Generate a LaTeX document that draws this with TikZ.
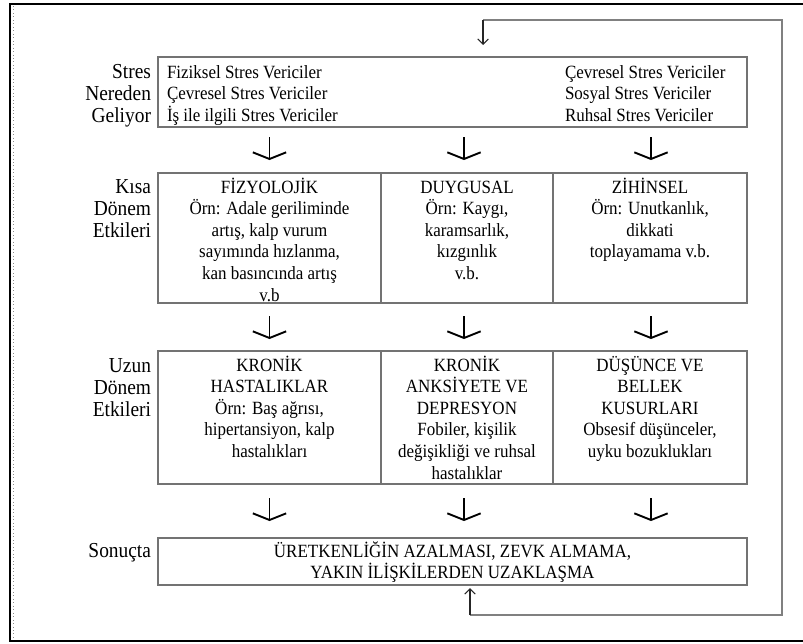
\documentclass[tikz,border=0pt]{standalone}
\usepackage{fontspec}
\setmainfont{Liberation Serif}[FakeStretch=0.91]
\usetikzlibrary{arrows.meta,fit}
\begin{document}
\begin{tikzpicture}[x=0.75pt,y=-0.75pt,
  every node/.style={font=\fontsize{14}{16.2}\selectfont, inner sep=0pt, outer sep=0pt},
  box/.style={draw=black!55, line width=0.9pt, inner sep=0pt},
  txt/.style={align=center, anchor=base},
  lbl/.style={align=right, anchor=base east, font=\fontsize{16}{16.5}\selectfont},
  down/.style={line width=1.4pt, -{Straight Barb[length=5pt,width=25pt,line width=1.4pt]}},
  loopline/.style={draw=black!50, line width=1pt},
  looptip/.style={line width=0.8pt, draw=black!85, -{Straight Barb[length=4pt,width=8pt]}}
]
\useasboundingbox (0,0) rectangle (803,643);

% frame
\draw[line width=1.6pt] (803,4) -- (10,4) -- (10,641) -- (803,641);
\draw[black!45, dotted, line width=0.6pt] (13.5,6) -- (13.5,639);

% row labels (anchor = baseline of last line)
\node[lbl] (l1) at (151,122) {Stres\\Nereden\\Geliyor};
\node[lbl] (l2) at (151,237) {Kısa\\Dönem\\Etkileri};
\node[lbl] (l3) at (151,416) {Uzun\\Dönem\\Etkileri};
\node[lbl] (l4) at (151,557) {Sonuçta};

% top box
\node[box, fit={(158,57) (747,127)}] (src) {};
\node[anchor=base west, align=left] (srcL) at (167,121.2) {Fiziksel Stres Vericiler\\Çevresel Stres Vericiler\\İş ile ilgili Stres Vericiler};
\node[anchor=base west, align=left] (srcR) at (565,121.2) {Çevresel Stres Vericiler\\Sosyal Stres Vericiler\\Ruhsal Stres Vericiler};

% short term
\node[box, fit={(158,173) (381,303)}] (k1) {};
\node[box, fit={(381,173) (553,303)}] (k2) {};
\node[box, fit={(553,173) (747,303)}] (k3) {};
\node[txt] (k1t) at (269.5,301) {FİZYOLOJİK\\Örn: Adale geriliminde\\artış, kalp vurum\\sayımında hızlanma,\\kan basıncında artış\\v.b};
\node[txt] (k2t) at (467,279.4) {DUYGUSAL\\Örn: Kaygı,\\karamsarlık,\\kızgınlık\\v.b.};
\node[txt] (k3t) at (650,257.8) {ZİHİNSEL\\Örn: Unutkanlık,\\dikkati\\toplayamama v.b.};

% long term
\node[box, fit={(158,351) (381,484)}] (u1) {};
\node[box, fit={(381,351) (553,484)}] (u2) {};
\node[box, fit={(553,351) (747,484)}] (u3) {};
\node[txt] (u1t) at (269.5,457.4) {KRONİK\\HASTALIKLAR\\Örn: Baş ağrısı,\\hipertansiyon, kalp\\hastalıkları};
\node[txt] (u2t) at (467,479) {KRONİK\\ANKSİYETE VE\\DEPRESYON\\Fobiler, kişilik\\değişikliği ve ruhsal\\hastalıklar};
\node[txt] (u3t) at (650,457.4) {DÜŞÜNCE VE\\BELLEK\\KUSURLARI\\Obsesif düşünceler,\\uyku bozuklukları};

% result
\node[box, fit={(158,538) (747,585)}] (res) {};
\node[txt] (rest) at (452.5,578.6) {ÜRETKENLİĞİN AZALMASI, ZEVK ALMAMA,\\YAKIN İLİŞKİLERDEN UZAKLAŞMA};

% down arrows
\foreach \r/\ya/\yb in {1/137/160, 2/316/339, 3/498/521}{
  \foreach \c/\xx in {a/269.5, b/464, c/651}{
    \coordinate (d\r\c s) at (\xx,\ya);
    \coordinate (d\r\c e) at (\xx,\yb);
    \draw[down] (d\r\c s) -- (d\r\c e);
  }
}

% feedback loop
\coordinate (lt0) at (483,20);
\coordinate (lt) at (483,45);
\coordinate (rt) at (782,20);
\coordinate (rb) at (782,615);
\coordinate (lb0) at (470,615);
\coordinate (lb) at (470,588);
\draw[loopline] (lt0) -- (rt) -- (rb) -- (lb0);
\draw[looptip] (lt0) -- (lt);
\draw[looptip] (lb0) -- (lb);
\end{tikzpicture}
\end{document}
